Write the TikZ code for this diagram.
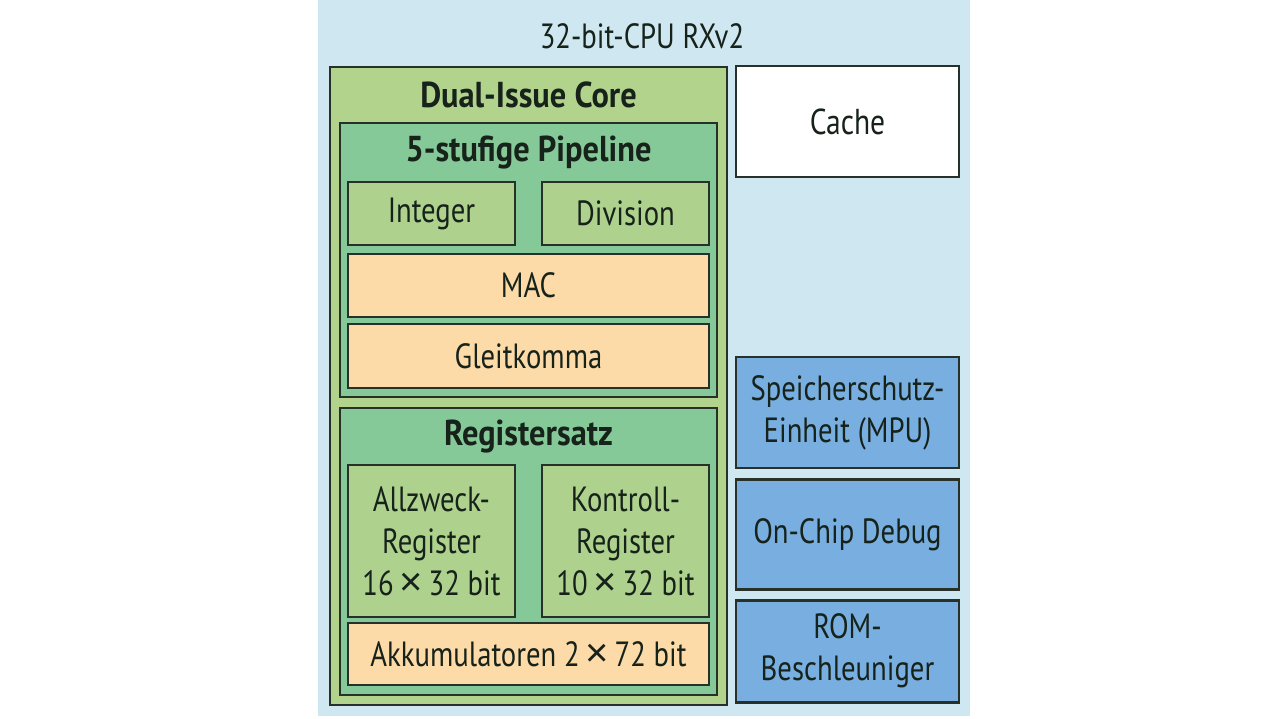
\documentclass[tikz,border=0pt]{standalone}
\usepackage{fontspec}
\setmainfont{PT Sans}[FakeStretch=0.82, BoldFeatures={FakeStretch=0.9}]
\newfontface\timesface{Liberation Sans}
\usetikzlibrary{positioning}
\definecolor{cpubg}{RGB}{206,231,240}
\definecolor{coregreen}{RGB}{178,211,140}
\definecolor{pipegreen}{RGB}{134,201,152}
\definecolor{unitgreen}{RGB}{174,210,142}
\definecolor{unitorange}{RGB}{252,219,168}
\definecolor{periblue}{RGB}{120,175,224}
\definecolor{edgegray}{RGB}{40,48,42}
\definecolor{inkdark}{RGB}{22,34,26}
\newcommand{\bigtimes}{\,{\timesface\fontsize{40}{42}\selectfont ×}\,}

\tikzset{
  blk/.style={draw=edgegray, line width=2.6pt, inner sep=0pt, align=center,
    text=inkdark, font=\fontsize{35}{42}\selectfont},
  box/.style n args={3}{blk, minimum width=#1, minimum height=#2, fill=#3},
  heading/.style={font=\fontsize{36}{40}\selectfont\bfseries, text=inkdark, inner sep=0pt}
}

\begin{document}
\begin{tikzpicture}[x=1pt, y=-1pt]
  \useasboundingbox (0,0) rectangle (1280,719);
  \fill[cpubg] (318,0) rectangle (970,716);
  \node[font=\fontsize{35}{40}\selectfont, text=inkdark] (cpu) at (642,36) {32-bit-CPU RXv2};

  % Dual-Issue Core
  \node[box={397pt}{638pt}{coregreen}] (core) at (528.5,386) {};
  \node[heading] (coretitle) at (528.5,95) {Dual-Issue Core};

  % pipeline
  \node[box={377pt}{274pt}{pipegreen}] (pipe) at (528.5,260) {};
  \node[heading] (pipetitle) at (528.5,153) {5-stufige Pipeline};
  \node[box={167pt}{63pt}{unitgreen}] (int) at (431.5,213.5) {Integer};
  \node[box={167pt}{63pt}{unitgreen}] (div) at (625.5,213.5) {Division};
  \node[box={361pt}{63pt}{unitorange}] (mac) at (528.5,285.5) {MAC};
  \node[box={361pt}{64pt}{unitorange}] (fpu) at (528.5,356) {Gleitkomma};

  % register set
  \node[box={377pt}{287pt}{pipegreen}] (regs) at (528.5,551.5) {};
  \node[heading] (regstitle) at (528.5,437) {Registersatz};
  \node[box={167pt}{152pt}{unitgreen}] (gpr) at (431.5,541)
    {Allzweck-\\Register\\16\bigtimes32 bit};
  \node[box={167pt}{152pt}{unitgreen}] (ctrl) at (625.5,541)
    {Kontroll-\\Register\\10\bigtimes32 bit};
  \node[box={361pt}{62pt}{unitorange}] (acc) at (528.5,654)
    {Akkumulatoren 2\bigtimes72 bit};

  % peripherals
  \node[box={223pt}{111pt}{white}, font=\fontsize{36}{42}\selectfont] (cache) at (847.5,121.5) {Cache};
  \node[box={223pt}{111pt}{periblue}] (mpu) at (847.5,412.5)
    {Speicherschutz-\\Einheit (MPU)};
  \node[box={223pt}{110pt}{periblue}, below=9pt of mpu] (dbg) {On-Chip Debug};
  \node[box={223pt}{102pt}{periblue}, below=8pt of dbg] (rom) {ROM-\\Beschleuniger};
\end{tikzpicture}
\end{document}
